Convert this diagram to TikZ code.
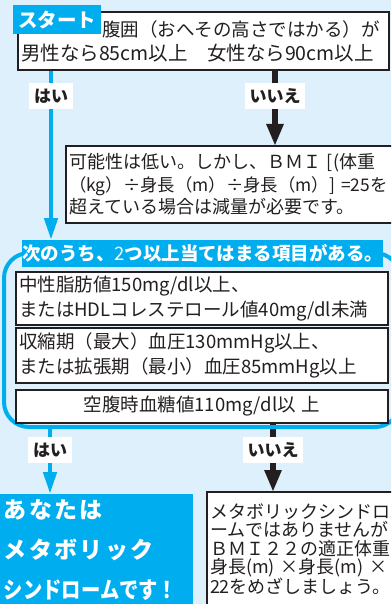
\documentclass[tikz,border=0pt]{standalone}
\usepackage{fontspec}
\setmainfont{Noto Sans CJK JP}
\usepackage{graphicx}
\usetikzlibrary{arrows.meta}
\pgfdeclarelayer{back}
\pgfdeclarelayer{arr}
\pgfsetlayers{back,arr,main}
\definecolor{cy}{HTML}{00ADEE}
\definecolor{bgc}{HTML}{DDF0FB}
\definecolor{ink}{HTML}{231F20}
\begin{document}
\begin{tikzpicture}[x=1pt,y=-1pt,
  box/.style={draw=ink, line width=2pt, fill=white, anchor=north west, align=left,
    inner xsep=3pt, inner ysep=0pt, outer sep=0pt, text=ink},
  cybox/.style={fill=cy, text=white, anchor=north west, inner sep=0pt, outer sep=0pt},
  lab/.style={fill=white, text=ink, font=\bfseries\fontsize{17}{17}\selectfont,
    inner sep=0pt, minimum height=26pt},
  bluearr/.style={draw=cy, line width=4.5pt, -{Triangle[length=22pt,width=13pt]}},
  blackarr/.style={draw=ink, line width=5.5pt, -{Triangle[length=22pt,width=16pt]}},
]
\useasboundingbox (0,0) rectangle (391,604);
\begin{pgfonlayer}{back}
\fill[bgc] (0,0) rectangle (391,604);
\end{pgfonlayer}
\clip (0,0) rectangle (391,604);

% top question
\node[box, text width=365pt, minimum height=58pt, font=\fontsize{19.5}{24}\selectfont] (top) at (18,12)
  {\mbox{\hspace*{81pt}\fontsize{18.5}{24}\selectfont 腹囲（おへその高さではかる）が}\\\mbox{男性なら85cm以上　女性なら90cm以上}};
\node[cybox, minimum width=88pt, minimum height=29pt, font=\bfseries\fontsize{19.5}{19.5}\selectfont] (start) at (13,5) {スタート};

% labels first row
\node[lab, minimum width=44pt] (hai1) at (51,96) {はい};
\node[lab, minimum width=60pt] (iie1) at (275,96) {いいえ};

% box 2
\node[box, text width=328pt, minimum height=77pt, font=\fontsize{18}{22.5}\selectfont] (box2) at (66,146)
  {\mbox{可能性は低い。しかし、ＢＭＩ [(体重}\\\mbox{\fontsize{17.4}{22.5}\selectfont（kg）÷身長（m）÷身長（m）] =25を}\\\mbox{超えている場合は減量が必要です。}};

% frame
\node[draw=cy, line width=4pt, rounded corners=25pt, minimum width=396pt, minimum height=174pt,
  anchor=north west, inner sep=0pt, outer sep=0pt] (frame) at (4,253) {};
\node[cybox, minimum width=360pt, minimum height=27pt, font=\bfseries\fontsize{18.5}{18.5}\selectfont] (cond) at (22,240)
  {次のうち、{\mdseries 2}つ以上当てはまる項目がある。};

\node[box, text width=366pt, minimum height=53pt, font=\fontsize{18.5}{25}\selectfont] (boxA) at (16,272)
  {\mbox{中性脂肪値150mg/dl以上、}\\\mbox{またはHDLコレステロール値40mg/dl未満}};
\node[box, text width=366pt, minimum height=55pt, font=\fontsize{18.5}{25}\selectfont] (boxB) at (16,328)
  {\mbox{収縮期（最大）血圧130mmHg以上、}\\\mbox{または拡張期（最小）血圧85mmHg以上}};
\node[box, text width=366pt, minimum height=33pt, align=center, font=\fontsize{18.5}{25}\selectfont] (boxC) at (16,390)
  {\mbox{空腹時血糖値110mg/dl以 上}};

% labels second row
\node[lab, minimum width=44pt] (hai2) at (50,450) {はい};
\node[lab, minimum width=60pt] (iie2) at (273,450) {いいえ};

% results
\node[cybox, minimum width=193pt, minimum height=112pt, text width=185pt, align=left, inner xsep=4pt,
  font=\bfseries\fontsize{23}{40}\selectfont] (res1) at (0,494)
  {{\addfontfeature{LetterSpace=10}あなたは}\\{\addfontfeature{LetterSpace=10}メタボリック}\\\scalebox{0.84}[1]{シンドロームです！}};
\node[box, text width=187pt, minimum height=114pt, font=\fontsize{18}{18.5}\selectfont] (res2) at (207,492)
  {\mbox{メタボリックシンドロ}\\\mbox{ームではありませんが}\\\mbox{ＢＭＩ２２の適正体重}\\\mbox{身長(m) ×身長(m) ×}\\\mbox{22をめざしましょう。}};

\begin{pgfonlayer}{arr}
\draw[bluearr] (top.south -| hai1) -- (cond.north -| hai1);
\draw[blackarr] (top.south -| iie1) -- (box2.north -| iie1);
\draw[bluearr] (frame.south -| hai2) -- (res1.north -| hai2);
\draw[blackarr] (boxC.south -| iie2) -- (res2.north -| iie2);
\end{pgfonlayer}
\end{tikzpicture}
\end{document}
